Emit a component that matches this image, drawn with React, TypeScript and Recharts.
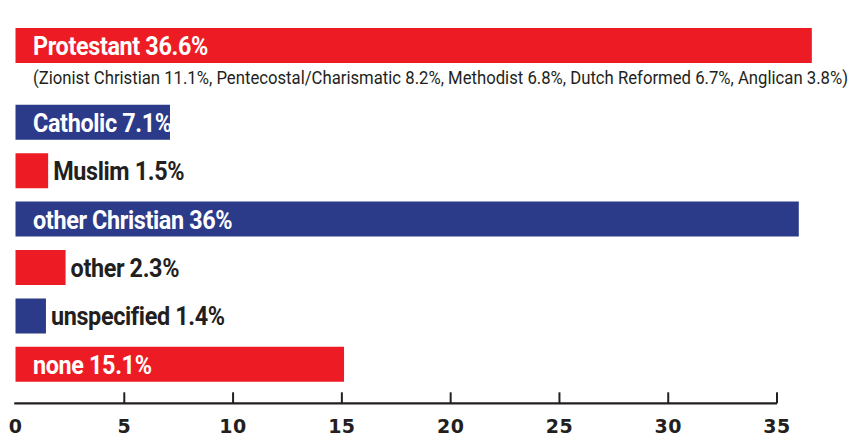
import { BarChart, Bar, XAxis, YAxis, LabelList, Cell } from "recharts";

// top row (with its breakdown line underneath)
const topCategories = ["Protestant"];
const topValues = [36.6];
const protestantParts = ["Zionist Christian", "Pentecostal/Charismatic", "Methodist", "Dutch Reformed", "Anglican"];
const protestantPartValues = [11.1, 8.2, 6.8, 6.7, 3.8];

// remaining rows
const categories = ["Catholic", "Muslim", "other Christian", "other", "unspecified", "none"];
const values = [7.1, 1.5, 36, 2.3, 1.4, 15.1];

const xTicks = [0, 5, 10, 15, 20, 25, 30, 35];

const RED = "#ED1C24";
const BLUE = "#2B3A89";
const INK = "#231F20";

const W = 851;
const LEFT = 15.5;
const RIGHT = 8.7;
const X_MAX = 38;
const PX = (W - LEFT - RIGHT) / X_MAX;

const LABEL_FONT = "Roboto, 'Noto Sans', sans-serif";

const topData = topCategories.map((name, i) => ({ name, value: topValues[i] }));
const data = categories.map((name, i) => ({ name, value: values[i] }));
const subtitle = "(" + protestantParts.map((p, i) => `${p} ${protestantPartValues[i]}%`).join(", ") + ")";

function BarLabel(props: any) {
  const { x, y, width, height, value, index, names, withSubtitle } = props;
  const name = names[index];
  const inside = value >= 5;
  const tx = inside ? x + 17.5 : x + width + 5;
  const ty = y + height / 2 + 9.4;
  return (
    <g>
      <text
        transform={`translate(${tx} ${ty}) scale(0.9 1)`}
        fill={inside ? "#fff" : INK}
        fontFamily={LABEL_FONT}
        fontWeight={700}
        fontSize={26}
        letterSpacing={-0.4}
      >
        {`${name} ${value}%`}
      </text>
      {withSubtitle && (
        <text
          x={x + 17.5}
          y={y + height + 21}
          fill={INK}
          fontFamily={LABEL_FONT}
          fontSize={17.5}
          textLength={815}
          lengthAdjust="spacingAndGlyphs"
        >
          {subtitle}
        </text>
      )}
    </g>
  );
}

function AxisTick(props: any) {
  const { x, y, payload, index } = props;
  const last = xTicks[xTicks.length - 1];
  return (
    <g>
      {index === 0 && (
        <line x1={x - 1.25} y1={y} x2={x + (last - payload.value) * PX} y2={y} stroke={INK} strokeWidth={2.2} />
      )}
      {payload.value > 0 && <line x1={x} y1={y - 11} x2={x} y2={y} stroke={INK} strokeWidth={2} />}
      <text
        x={x}
        y={y + 30}
        textAnchor="middle"
        fill={INK}
        fontFamily="'DejaVu Sans', sans-serif"
        fontWeight={700}
        fontSize={19}
        letterSpacing={0.5}
      >
        {payload.value}
      </text>
    </g>
  );
}

const colorAt = (i: number) => (i % 2 === 0 ? RED : BLUE);

export default function App() {
  return (
    <div style={{ position: "absolute", left: 0, top: 0, width: W, height: 437, background: "#fff" }}>
      <BarChart width={W} height={91} data={topData} layout="vertical" margin={{ top: 10, right: RIGHT, left: LEFT, bottom: 0 }}>
        <XAxis type="number" domain={[0, X_MAX]} hide />
        <YAxis
          type="category"
          dataKey="name"
          width={0}
          tick={false}
          tickLine={false}
          axisLine={{ stroke: INK, strokeWidth: 2.5 }}
          padding={{ top: 0, bottom: 10 }}
        />
        <Bar dataKey="value" barSize={35} isAnimationActive={false}>
          {topData.map((_, i) => (
            <Cell key={i} fill={colorAt(i)} />
          ))}
          <LabelList dataKey="value" content={(p: any) => <BarLabel {...p} names={topCategories} withSubtitle />} />
        </Bar>
      </BarChart>
      <BarChart width={W} height={346} data={data} layout="vertical" margin={{ top: 0, right: RIGHT, left: LEFT, bottom: 0 }}>
        <XAxis
          type="number"
          domain={[0, X_MAX]}
          ticks={xTicks}
          interval={0}
          height={33.7}
          axisLine={false}
          tickLine={false}
          tickSize={0}
          tickMargin={0}
          tick={<AxisTick />}
        />
        <YAxis
          type="category"
          dataKey="name"
          width={0}
          tick={false}
          tickLine={false}
          axisLine={{ stroke: INK, strokeWidth: 2.5 }}
          padding={{ top: 6.8, bottom: 15.1 }}
        />
        <Bar dataKey="value" barSize={35} isAnimationActive={false}>
          {data.map((_, i) => (
            <Cell key={i} fill={colorAt(i + topData.length)} />
          ))}
          <LabelList dataKey="value" content={(p: any) => <BarLabel {...p} names={categories} />} />
        </Bar>
      </BarChart>
    </div>
  );
}
